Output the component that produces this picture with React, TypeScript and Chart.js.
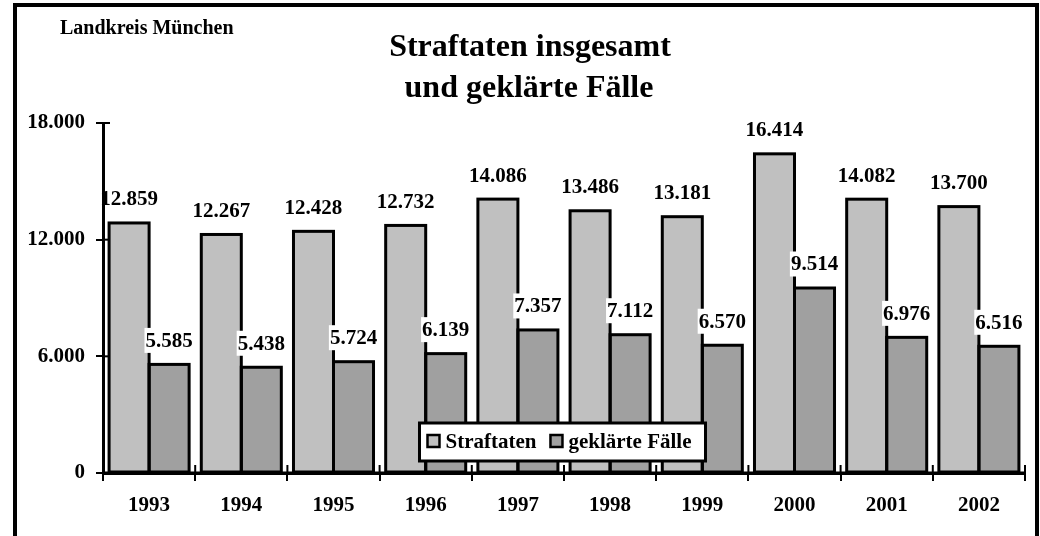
import React, { useEffect, useRef } from 'react';
import { Chart, registerables } from 'chart.js';

Chart.register(...registerables);

const categories = ['1993', '1994', '1995', '1996', '1997', '1998', '1999', '2000', '2001', '2002'];
const straftaten = [12859, 12267, 12428, 12732, 14086, 13486, 13181, 16414, 14082, 13700];
const geklaerteFaelle = [5585, 5438, 5724, 6139, 7357, 7112, 6570, 9514, 6976, 6516];
const seriesNames = ['Straftaten', 'geklärte Fälle'];
const seriesColors = ['#c0c0c0', '#a0a0a0'];
const titleLines = ['Straftaten insgesamt', 'und geklärte Fälle'];
const regionLabel = 'Landkreis München';
const yMin = 0;
const yMax = 18000;
const yStep = 6000;

const FONT = '"Liberation Serif", "Times New Roman", Times, serif';

function fmt(v: number): string {
  return String(Math.round(v)).replace(/\B(?=(\d{3})+(?!\d))/g, '.');
}

const decorPlugin = {
  id: 'decor',
  beforeDraw(chart: any) {
    const ctx = chart.ctx;
    ctx.save();
    ctx.fillStyle = '#ffffff';
    ctx.fillRect(0, 0, chart.width, chart.height);
    // frame
    ctx.strokeStyle = '#000';
    ctx.lineWidth = 4;
    ctx.strokeRect(15, 5, 1022, 600);
    // titles
    ctx.fillStyle = '#000';
    ctx.textAlign = 'center';
    ctx.textBaseline = 'middle';
    ctx.font = `bold 32px ${FONT}`;
    ctx.fillText(titleLines[0], 530, 48);
    ctx.fillText(titleLines[1], 529, 89);
    ctx.textAlign = 'left';
    ctx.font = `bold 20px ${FONT}`;
    ctx.fillText(regionLabel, 60, 29);
    ctx.restore();
  },
  afterDatasetsDraw(chart: any) {
    const ctx = chart.ctx;
    const area = chart.chartArea;
    ctx.save();
    // bar borders
    ctx.strokeStyle = '#000';
    ctx.lineWidth = 3;
    ctx.lineJoin = 'miter';
    chart.data.datasets.forEach((_: any, di: number) => {
      const meta = chart.getDatasetMeta(di);
      meta.data.forEach((el: any) => {
        const left = el.x - el.width / 2;
        ctx.strokeRect(left, el.y, el.width, el.base - el.y);
      });
    });
    // inward tick halves
    ctx.lineWidth = 2;
    const xs = chart.scales.x;
    const ys = chart.scales.y;
    const half = (xs.getPixelForValue(1) - xs.getPixelForValue(0)) / 2;
    for (let i = 0; i <= categories.length; i++) {
      const px = i < categories.length ? xs.getPixelForValue(i) - half : xs.getPixelForValue(categories.length - 1) + half;
      ctx.beginPath();
      ctx.moveTo(px, area.bottom);
      ctx.lineTo(px, area.bottom - 8);
      ctx.stroke();
    }
    ys.ticks.forEach((t: any) => {
      const py = ys.getPixelForValue(t.value);
      ctx.beginPath();
      ctx.moveTo(area.left, py);
      ctx.lineTo(area.left + 7, py);
      ctx.stroke();
    });
    // x axis line over bars
    ctx.lineWidth = 3;
    ctx.beginPath();
    ctx.moveTo(area.left, area.bottom);
    ctx.lineTo(area.right, area.bottom);
    ctx.stroke();

    // value labels
    ctx.font = `bold 21px ${FONT}`;
    ctx.textAlign = 'center';
    ctx.textBaseline = 'middle';
    chart.data.datasets.forEach((ds: any, di: number) => {
      const meta = chart.getDatasetMeta(di);
      meta.data.forEach((el: any, i: number) => {
        const txt = fmt(ds.data[i]);
        const cy = el.y - 24;
        if (di === 1) {
          const w = ctx.measureText(txt).width;
          ctx.fillStyle = '#fff';
          ctx.fillRect(el.x - w / 2 - 1, cy - 12.5, w + 2, 25);
        }
        ctx.fillStyle = '#000';
        ctx.fillText(txt, el.x, cy + 1);
      });
    });

    // legend
    ctx.font = `bold 21px ${FONT}`;
    const w0 = ctx.measureText(seriesNames[0]).width;
    const w1 = ctx.measureText(seriesNames[1]).width;
    const sq = 12;
    const padL = 8, gap = 6, itemGap = 14, padR = 14;
    const boxW = padL + sq + gap + w0 + itemGap + sq + gap + w1 + padR;
    const boxH = 38;
    const cx = (area.left + area.right) / 2 - 1.5;
    const bx = cx - boxW / 2;
    const by = area.bottom - 12 - boxH;
    ctx.fillStyle = '#fff';
    ctx.fillRect(bx, by, boxW, boxH);
    ctx.strokeStyle = '#000';
    ctx.lineWidth = 3;
    ctx.strokeRect(bx, by, boxW, boxH);
    const my = by + boxH / 2;
    let x = bx + padL;
    [0, 1].forEach((k) => {
      ctx.fillStyle = seriesColors[k];
      ctx.fillRect(x, my - sq / 2 - 1, sq, sq);
      ctx.lineWidth = 2.5;
      ctx.strokeStyle = '#000';
      ctx.strokeRect(x, my - sq / 2 - 1, sq, sq);
      x += sq + gap;
      ctx.fillStyle = '#000';
      ctx.textAlign = 'left';
      ctx.textBaseline = 'middle';
      ctx.fillText(seriesNames[k], x, my + 1);
      x += (k === 0 ? w0 : w1) + itemGap;
    });
    ctx.restore();
  },
};

export default function App() {
  const ref = useRef<HTMLCanvasElement | null>(null);
  useEffect(() => {
    document.body.style.margin = '0';
    const canvas = ref.current;
    if (!canvas) return;
    const chart = new Chart(canvas, {
      type: 'bar',
      data: {
        labels: categories,
        datasets: [
          { label: seriesNames[0], data: straftaten, backgroundColor: seriesColors[0], borderWidth: 0 },
          { label: seriesNames[1], data: geklaerteFaelle, backgroundColor: seriesColors[1], borderWidth: 0 },
        ],
      },
      options: {
        responsive: false,
        maintainAspectRatio: false,
        animation: false,
        devicePixelRatio: 1,
        layout: { padding: { left: 0, right: 15, top: 123, bottom: 0 } },
        plugins: {
          legend: { display: false },
          title: { display: false },
          tooltip: { enabled: false },
        },
        datasets: { bar: { categoryPercentage: 0.868, barPercentage: 1 } },
        scales: {
          x: {
            offset: true,
            grid: { display: true, offset: true, drawOnChartArea: false, drawTicks: true, tickLength: 8, color: '#000', lineWidth: 2 },
            border: { display: true, color: '#000', width: 3 },
            ticks: { color: '#000', font: { family: FONT, size: 21, weight: 'bold' }, padding: 12, maxRotation: 0 },
            afterFit: (scale: any) => { scale.height = 63; },
          },
          y: {
            min: yMin,
            max: yMax,
            grid: { display: true, drawOnChartArea: false, drawTicks: true, tickLength: 7, color: '#000', lineWidth: 2 },
            border: { display: true, color: '#000', width: 3 },
            ticks: { stepSize: yStep, color: '#000', font: { family: FONT, size: 21, weight: 'bold' }, padding: 11, callback: (v: any) => fmt(Number(v)) },
            afterFit: (scale: any) => { scale.width = 103; },
          },
        },
      },
      plugins: [decorPlugin],
    });
    return () => chart.destroy();
  }, []);
  return <canvas ref={ref} width={1040} height={536} style={{ display: 'block' }} />;
}
